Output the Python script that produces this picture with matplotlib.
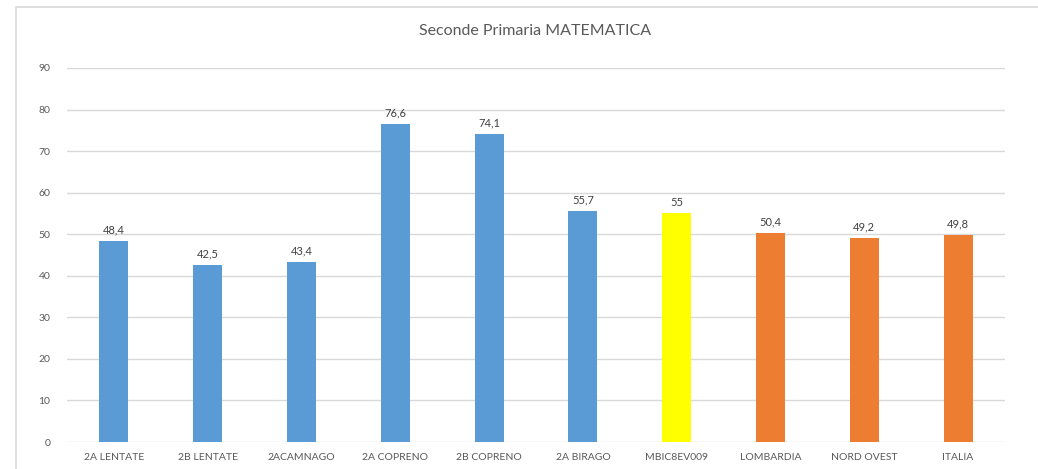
import matplotlib
matplotlib.use("Agg")
import matplotlib.pyplot as plt
from matplotlib.patches import Rectangle

categories = ["2A LENTATE", "2B LENTATE", "2ACAMNAGO", "2A COPRENO", "2B COPRENO",
              "2A BIRAGO", "MBIC8EV009", "LOMBARDIA", "NORD OVEST", "ITALIA"]
values = [48.4, 42.5, 43.4, 76.6, 74.1, 55.7, 55, 50.4, 49.2, 49.8]
labels = ["48,4", "42,5", "43,4", "76,6", "74,1", "55,7", "55", "50,4", "49,2", "49,8"]
colors = ["#5B9BD5"] * 6 + ["#FFFF00"] + ["#ED7D31"] * 3
title = "Seconde Primaria MATEMATICA"

plt.rcParams['font.family'] = ['Lato', 'DejaVu Sans']
txt = "#595959"

fig = plt.figure(figsize=(10.38, 4.69), dpi=100)
W, H = 1038, 469
ax = fig.add_axes([67 / W, 1 - 442 / H, (1005 - 67) / W, (442 - 68) / H])

x = list(range(len(categories)))
ax.bar(x, values, width=0.31, color=colors, zorder=3)
for xi, v, lab in zip(x, values, labels):
    ax.annotate(lab, (xi, v), xytext=(0, 4), textcoords="offset points",
                ha="center", va="bottom", fontsize=8, color="#404040")

ax.set_xlim(-0.5, len(categories) - 0.5)
ax.set_ylim(0, 90)
ax.set_yticks(range(0, 91, 10))
ax.set_xticks(x)
ax.set_xticklabels(categories)
ax.tick_params(axis="both", length=0, labelsize=7.5, colors=txt)
ax.tick_params(axis="x", pad=8)
ax.tick_params(axis="y", pad=12)
ax.grid(axis="y", color="#D9D9D9", linewidth=1, zorder=0)
for s in ax.spines.values():
    s.set_visible(False)

fig.text(535 / W, 1 - 31 / H, title, ha="center", va="center", fontsize=11.5, color=txt)

fig.patches.append(Rectangle((16 / W, -0.1), 1.2, 1 - 7.5 / H + 0.1, transform=fig.transFigure,
                             fill=False, edgecolor="#D9D9D9", linewidth=1.2, zorder=-1))

fig.savefig("out.png", dpi=100)
